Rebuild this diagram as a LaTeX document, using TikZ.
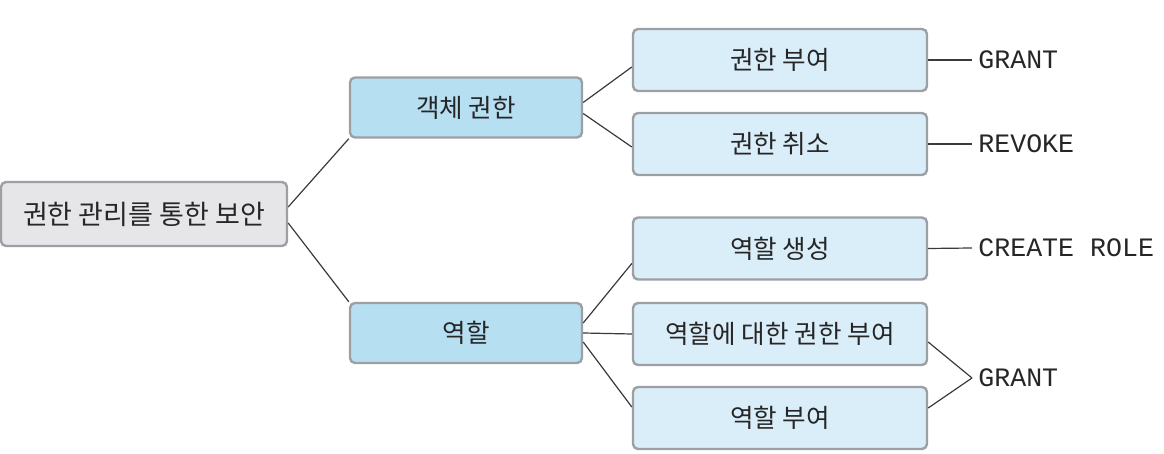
\documentclass[tikz,border=0pt]{standalone}
\usepackage{fontspec}
\setmainfont{Liberation Sans}
\newfontfamily\cjk{Noto Sans CJK KR}
\newfontfamily\codefont{Liberation Mono}
\usepackage{tikz}
\usetikzlibrary{positioning, calc}

\definecolor{boxline}{HTML}{9C9FA3}
\definecolor{rootfill}{HTML}{E6E6E9}
\definecolor{midfill}{HTML}{B7DFF2}
\definecolor{leaffill}{HTML}{DAEEF9}
\definecolor{inktext}{HTML}{262626}
\definecolor{linkline}{HTML}{3A3A3A}

\begin{document}
\begin{tikzpicture}[x=0.5pt, y=-0.5pt,
    box/.style={draw=boxline, line width=1.2pt, rounded corners=2.5pt,
        text=inktext, font=\cjk\fontsize{12.8}{14}\selectfont, inner sep=0pt},
    rootbox/.style={box, fill=rootfill, minimum width=143pt, minimum height=32pt,
        font=\cjk\fontsize{13.5}{15}\selectfont},
    midbox/.style={box, fill=midfill, minimum width=116pt, minimum height=30pt},
    leafbox/.style={box, fill=leaffill, minimum width=147pt, minimum height=31pt},
    sqlcmd/.style={anchor=west, inner xsep=3pt, inner ysep=0pt, text=inktext,
        font=\codefont\fontsize{13.3}{15}\selectfont},
    link/.style={draw=linkline, line width=0.6pt}]

    \useasboundingbox (0,0) rectangle (1164,454);

    % ================= Boxes =================
    \node[rootbox] (root) at (144,214) {권한 관리를 통한 보안};

    \node[midbox] (obj)  at (466,107.5) {객체 권한};
    \node[midbox] (role) at (466,333) {역할};

    \node[leafbox] (grant)   at (780,60)    {권한 부여};
    \node[leafbox] (revoke)  at (780,144)   {권한 취소};
    \node[leafbox] (create)  at (780,248.5) {역할 생성};
    \node[leafbox] (rolepriv) at (780,334)  {역할에 대한 권한 부여};
    \node[leafbox] (rolegive) at (780,418)  {역할 부여};

    % ================= SQL commands =================
    \node[sqlcmd] (sqlgrant)  at (972,60)  {GRANT};
    \node[sqlcmd] (sqlrevoke) at (972,144) {REVOKE};
    \node[sqlcmd] (sqlcreate) at (972,248) {CREATE ROLE};
    \node[sqlcmd] (sqlrole)   at (972,378) {GRANT};

    % ================= Connectors =================
    \draw[link] ([yshift=3.5pt]root.east) -- (obj.south west);
    \draw[link] ([yshift=-4.5pt]root.east) -- (role.north west);

    \draw[link] ([yshift=2.5pt]obj.east) -- ([yshift=-3.5pt]grant.west);
    \draw[link] ([yshift=-3pt]obj.east) -- ([yshift=-1.5pt]revoke.west);

    \draw[link] ([yshift=5pt]role.east) -- ([yshift=-7.5pt]create.west);
    \draw[link] (role.east) -- (rolepriv.west);
    \draw[link] ([yshift=-4.5pt]role.east) -- ([yshift=5.5pt]rolegive.west);

    \draw[link] (grant.east) -- (sqlgrant.west);
    \draw[link] (revoke.east) -- (sqlrevoke.west);
    \draw[link] (create.east) -- (sqlcreate.west);
    \draw[link] ([yshift=-4pt]rolepriv.east) -- (sqlrole.west);
    \draw[link] ([yshift=5pt]rolegive.east) -- (sqlrole.west);

\end{tikzpicture}
\end{document}
